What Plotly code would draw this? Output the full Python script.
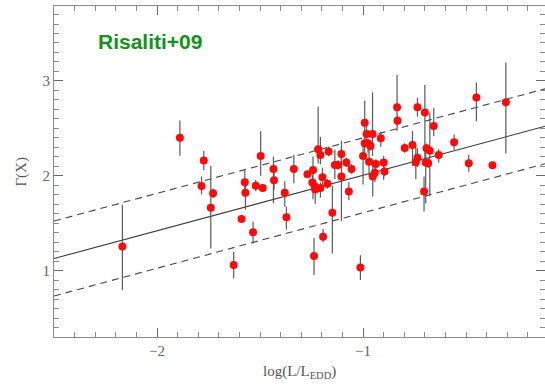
import plotly.graph_objects as go

# log(L/L_EDD) and photon index Gamma(X) with asymmetric errors
log_edd = [-2.168, -1.889, -1.773, -1.784, -1.739, -1.728, -1.628, -1.590, -1.574, -1.571,
           -1.534, -1.521, -1.497, -1.487, -1.435, -1.432, -1.380, -1.372, -1.336, -1.270,
           -1.243, -1.246, -1.238, -1.232, -1.235, -1.207, -1.218, -1.207, -1.197, -1.194,
           -1.167, -1.173, -1.149, -1.137, -1.121, -1.105, -1.105, -1.081, -1.069, -1.056,
           -1.013, -1.000, -0.992, -0.992, -0.983, -0.976, -0.964, -0.971, -0.954, -0.953,
           -0.938, -0.943, -0.914, -0.900, -0.896, -0.835, -0.833, -0.798, -0.760, -0.744,
           -0.736, -0.736, -0.700, -0.704, -0.692, -0.696, -0.684, -0.676, -0.657, -0.633,
           -0.558, -0.487, -0.450, -0.372, -0.307]
gamma_x = [1.253, 2.402, 2.160, 1.893, 1.664, 1.816, 1.060, 1.545, 1.932, 1.822,
           1.405, 1.896, 2.209, 1.872, 2.072, 1.953, 1.822, 1.563, 2.072, 2.016,
           2.062, 1.930, 1.155, 1.855, 1.890, 1.870, 2.280, 2.220, 1.985, 1.358,
           2.255, 1.915, 1.611, 2.114, 2.114, 2.230, 1.991, 2.139, 1.833, 2.072,
           1.032, 2.209, 2.560, 2.343, 2.440, 2.343, 2.315, 2.149, 2.440, 1.991,
           2.125, 2.033, 2.396, 2.139, 2.044, 2.723, 2.581, 2.294, 2.325, 2.143,
           2.723, 2.191, 2.666, 1.833, 2.290, 2.139, 2.132, 2.265, 2.526, 2.220,
           2.354, 2.132, 2.824, 2.111, 2.775]
err_plus = [0.44, 0.18, 0.10, 0.10, 0.44, 0.05, 0.14, 0.04, 0.13, 0.08,
            0.11, 0.06, 0.26, 0.04, 0.13, 0.10, 0.12, 0.11, 0.15, 0.03,
            0.14, 0.08, 0.19, 0.10, 0.05, 0.06, 0.45, 0.19, 0.10, 0.08,
            0.05, 0.05, 0.28, 0.16, 0.05, 0.14, 0.30, 0.05, 0.10, 0.05,
            0.13, 0.13, 0.23, 0.10, 0.10, 0.05, 0.05, 0.16, 0.44, 0.18,
            0.05, 0.05, 0.07, 0.07, 0.05, 0.34, 0.05, 0.05, 0.15, 0.17,
            0.10, 0.10, 0.29, 0.16, 0.05, 0.16, 0.05, 0.40, 0.19, 0.06,
            0.08, 0.09, 0.16, 0.00, 0.42]
err_minus = [0.46, 0.19, 0.10, 0.09, 0.43, 0.05, 0.14, 0.04, 0.12, 0.18,
             0.12, 0.06, 0.21, 0.04, 0.36, 0.10, 0.15, 0.13, 0.15, 0.03,
             0.31, 0.10, 0.20, 0.15, 0.05, 0.10, 0.15, 0.10, 0.08, 0.06,
             0.05, 0.05, 0.43, 0.15, 0.05, 0.14, 0.47, 0.05, 0.09, 0.05,
             0.13, 0.30, 0.22, 0.10, 0.10, 0.10, 0.05, 0.15, 0.23, 0.21,
             0.10, 0.10, 0.09, 0.18, 0.05, 0.25, 0.05, 0.05, 0.22, 0.18,
             0.10, 0.10, 0.50, 0.21, 0.05, 0.43, 0.05, 0.48, 0.11, 0.08,
             0.08, 0.09, 0.25, 0.00, 0.54]

# best-fit relation and its scatter band
fit_slope = 0.585
fit_intercept = 2.59
band = 0.395
x_range = [-2.5, -0.117]
y_range = [0.3, 3.79]

fit_y = [fit_slope * x + fit_intercept for x in x_range]

fig = go.Figure()

fig.add_trace(go.Scatter(x=x_range, y=fit_y, mode="lines",
                         line=dict(color="#3a3a3a", width=1.1), showlegend=False))
for off in (band, -band):
    fig.add_trace(go.Scatter(x=x_range, y=[v + off for v in fit_y], mode="lines",
                             line=dict(color="#444444", width=1.1, dash="7px,5px"),
                             showlegend=False))

fig.add_trace(go.Scatter(
    x=log_edd, y=gamma_x, mode="markers",
    marker=dict(color="#ff0a0a", size=8, line=dict(width=0)),
    error_y=dict(type="data", symmetric=False, array=err_plus, arrayminus=err_minus,
                 color="#5a5a5a", thickness=1.2, width=0),
    showlegend=False))

serif = "Liberation Serif"
axis_common = dict(
    showline=True, linecolor="#8a8a8a", linewidth=1, mirror="allticks",
    ticks="inside", tickcolor="#6a6a6a", ticklen=9, tickwidth=1,
    showgrid=False, zeroline=False,
    tickfont=dict(family=serif, size=15, color="#666666"),
    minor=dict(ticks="inside", ticklen=5, dtick=0.1, tickcolor="#8a8a8a", tickwidth=1),
)

fig.update_xaxes(range=x_range, tickvals=[-2, -1], ticktext=["\u22122", "\u22121"],
                 **axis_common)
fig.update_yaxes(range=y_range, tickvals=[1, 2, 3], ticktext=["1", "2", "3"],
                 **axis_common)

fig.add_annotation(text="log(L/L<sub>EDD</sub>)", xref="paper", yref="paper",
                   x=0.5, y=-0.106, showarrow=False, xanchor="center", yanchor="middle",
                   font=dict(family=serif, size=15, color="#555555"))
fig.add_annotation(text="\u0393(X)", xref="paper", yref="paper",
                   x=-0.067, y=0.5, showarrow=False, textangle=-90,
                   xanchor="center", yanchor="middle",
                   font=dict(family=serif, size=15, color="#555555"))
fig.add_annotation(text="<b>Risaliti+09</b>", xref="paper", yref="paper",
                   x=(96 - 54) / 491, y=(337 - 42) / 331, xanchor="left", yanchor="middle",
                   showarrow=False,
                   font=dict(family="Liberation Sans", size=21, color="#12931a"))

fig.update_layout(
    width=545, height=384,
    margin=dict(l=54, r=0, t=6, b=47),
    paper_bgcolor="white", plot_bgcolor="white",
)

fig.write_html("out.html")
